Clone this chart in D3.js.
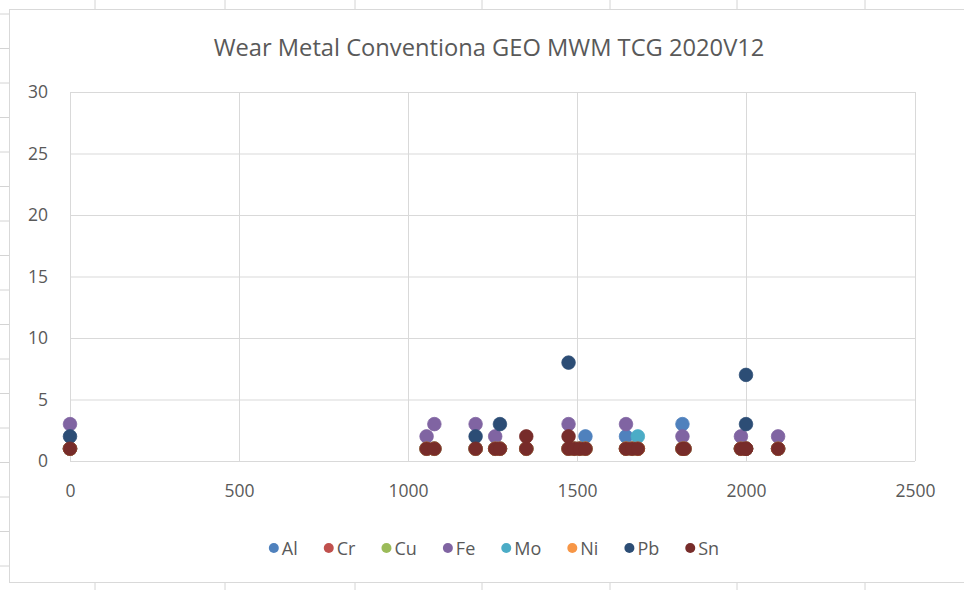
<!DOCTYPE html>
<html>
<head>
<meta charset="utf-8">
<script src="https://cdn.jsdelivr.net/npm/d3@7"></script>
<style>
  body { margin: 0; background: #fff; }
  svg { display: block; font-family: "Open Sans", sans-serif; }
</style>
</head>
<body>
<div id="chart"></div>
<script>
const width = 964;
const height = 590;

// horas de cada amostra (há amostras repetidas na mesma hora)
const hours = [0, 1055, 1078, 1200, 1258, 1272, 1350, 1350, 1475, 1475, 1492, 1508, 1525, 1645, 1663, 1680, 1812, 1818, 1985, 2000, 2000, 2095];

// valores por elemento (ppm), null = sem leitura
const Al = [1, 1, 1, 1, 1, 1, null, 1, null, 1, 1, 1, 2, 2, 1, 1, 3, 1, 1, 1, null, 1];
const Cr = [1, 1, 1, 1, 1, 1, null, 1, null, 1, 1, 1, 1, 1, 1, 1, 1, 1, 1, 1, null, 1];
const Cu = [1, 1, 1, 1, 1, 1, null, 1, null, 1, 1, 1, 1, 1, 1, 1, 1, 1, 1, 1, null, 1];
const Fe = [3, 2, 3, 3, 2, null, null, null, 3, null, null, null, null, 3, null, null, 2, null, 2, null, null, 2];
const Mo = [1, 1, 1, 1, 1, 1, null, 1, null, 1, 1, 1, 1, 1, 1, 2, 1, 1, 1, 1, null, 1];
const Ni = [1, 1, 1, 1, 1, 1, null, 1, null, 1, 1, 1, 1, 1, 1, 1, 1, 1, 1, 1, null, 1];
const Pb = [2, null, null, 2, null, 3, null, null, 8, null, null, null, null, null, null, null, null, null, null, 7, 3, null];
const Sn = [1, 1, 1, 1, 1, 1, 2, 1, 2, 1, 1, 1, 1, 1, 1, 1, 1, 1, 1, 1, 1, 1];

const seriesNames = ["Al", "Cr", "Cu", "Fe", "Mo", "Ni", "Pb", "Sn"];
const seriesValues = [Al, Cr, Cu, Fe, Mo, Ni, Pb, Sn];
const seriesColors = ["#4F81BD", "#C0504D", "#9BBB59", "#8064A2", "#4BACC6", "#F79646", "#2C4D75", "#772C2A"];

const xTicks = [0, 500, 1000, 1500, 2000, 2500];
const yTicks = [0, 5, 10, 15, 20, 25, 30];
const title = "Wear Metal Conventiona GEO MWM TCG 2020V12";

const svg = d3.select("#chart")
  .append("svg")
  .attr("width", width)
  .attr("height", height);

// linhas da folha de cálculo à volta do gráfico
const sheetCols = [95, 225, 355, 482, 610, 737, 865];
svg.selectAll("line.col")
  .data(sheetCols)
  .enter()
  .append("line")
  .attr("x1", d => d).attr("x2", d => d)
  .attr("y1", 0).attr("y2", height)
  .attr("stroke", "#d4d4d4");
const sheetRows = d3.range(14, 590, 34.5);
svg.selectAll("line.row")
  .data(sheetRows)
  .enter()
  .append("line")
  .attr("x1", 0).attr("x2", 9)
  .attr("y1", d => d).attr("y2", d => d)
  .attr("stroke", "#d4d4d4");

// área do gráfico
svg.append("rect")
  .attr("x", 9.5).attr("y", 9.5)
  .attr("width", 970).attr("height", 573)
  .attr("fill", "#fff")
  .attr("stroke", "#d9d9d9");

const plot = { left: 70, right: 915, top: 92, bottom: 461 };

const x = d3.scaleLinear().domain([0, 2500]).range([plot.left, plot.right]);
const y = d3.scaleLinear().domain([0, 30]).range([plot.bottom, plot.top]);

// título
const titleText = svg.append("text")
  .attr("x", 489)
  .attr("y", 47)
  .attr("text-anchor", "middle")
  .attr("dominant-baseline", "central")
  .attr("fill", "#595959")
  .attr("font-size", 20)
  .text(title);
// ajustar ao tamanho do título original (Calibri é mais estreita)
const tw = titleText.node().getComputedTextLength();
titleText.attr("font-size", 20 * 551 / tw);

// eixos com grelha
const xAxis = svg.append("g")
  .attr("transform", `translate(0,${plot.bottom})`)
  .call(d3.axisBottom(x)
    .tickValues(xTicks)
    .tickSizeInner(-(plot.bottom - plot.top))
    .tickSizeOuter(0)
    .tickPadding(24)
    .tickFormat(d3.format("d")));

const yAxis = svg.append("g")
  .attr("transform", `translate(${plot.left},0)`)
  .call(d3.axisLeft(y)
    .tickValues(yTicks)
    .tickSizeInner(-(plot.right - plot.left))
    .tickSizeOuter(0)
    .tickPadding(22));

[xAxis, yAxis].forEach(g => {
  g.select(".domain").remove();
  g.selectAll(".tick line").attr("stroke", "#d9d9d9");
  g.selectAll(".tick text")
    .attr("fill", "#595959")
    .attr("font-size", 17.5)
    .attr("font-family", "'Open Sans', sans-serif");
});

// pontos
const points = [];
seriesNames.forEach((name, i) => {
  seriesValues[i].forEach((v, j) => {
    if (v !== null) points.push({ name, color: seriesColors[i], h: hours[j], v });
  });
});

svg.append("g")
  .selectAll("circle")
  .data(points)
  .enter()
  .append("circle")
  .attr("cx", d => x(d.h))
  .attr("cy", d => y(d.v))
  .attr("r", 6.8)
  .attr("fill", d => d.color)
  .attr("stroke", d => d.color)
  .attr("stroke-width", 0.75);

// legenda
const legend = svg.append("g");
const gap = 26;
let lx = 0;
seriesNames.forEach((name, i) => {
  const item = legend.append("g").attr("transform", `translate(${lx},0)`);
  item.append("circle")
    .attr("cx", 5).attr("cy", 0).attr("r", 5)
    .attr("fill", seriesColors[i]);
  const t = item.append("text")
    .attr("x", 13)
    .attr("dominant-baseline", "central")
    .attr("fill", "#595959")
    .attr("font-size", 18)
    .text(name);
  lx += 13 + t.node().getComputedTextLength() + gap;
});
const legendWidth = lx - gap;
legend.attr("transform", `translate(${494 - legendWidth / 2},548)`);
</script>
</body>
</html>
